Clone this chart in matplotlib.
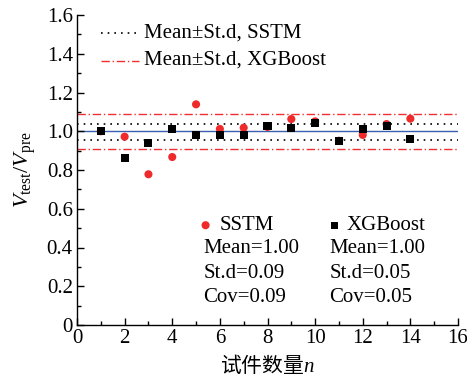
import matplotlib
matplotlib.use("Agg")
import matplotlib.pyplot as plt
from matplotlib.ticker import MultipleLocator

n = list(range(1, 15))
sstm = [1.00, 0.972, 0.778, 0.867, 1.139, 1.012, 1.018, 1.022, 1.063, 1.051, 0.951, 0.981, 1.037, 1.065]
xgb = [1.003, 0.864, 0.941, 1.010, 0.979, 0.979, 0.981, 1.027, 1.017, 1.044, 0.948, 1.010, 1.027, 0.962]
mean_line = 1.0
sstm_band = [1.037, 0.953]
xgb_band = [1.087, 0.908]

plt.rcParams['font.family'] = ['Liberation Serif', 'Noto Sans CJK SC']
plt.rcParams['mathtext.fontset'] = 'custom'
plt.rcParams['mathtext.rm'] = 'Liberation Serif'
plt.rcParams['mathtext.it'] = 'Liberation Serif:italic'

fig = plt.figure(figsize=(4.67, 3.84), dpi=100)
ax = fig.add_axes([77/467, 59/384, 381/467, 310/384])

fs = 15
ax.axhline(mean_line, color='#3a5fb0', lw=1.0, zorder=1)
for v in sstm_band:
    ax.axhline(v, color='black', lw=1.2, ls=(0, (1, 3)), zorder=1)
for v in xgb_band:
    ax.axhline(v, color='#f03030', lw=1.0, ls=(0, (6, 2, 1, 2)), zorder=1)

ax.scatter(n, sstm, marker='o', s=34, color='#ee2a2a', edgecolors='none', zorder=3)
ax.scatter(n, xgb, marker='s', s=34, color='black', edgecolors='none', zorder=4)

# legend (line handles)
ax.plot([1.0, 2.6], [1.505, 1.505], color='black', lw=1.2, ls=(0, (1, 3)))
ax.text(2.8, 1.505, 'Mean±St.d, SSTM', fontsize=fs, va='center', ha='left')
ax.plot([1.0, 2.6], [1.365, 1.365], color='#f03030', lw=1.0, ls=(0, (6, 2, 1, 2)))
ax.text(2.8, 1.365, 'Mean±St.d, XGBoost', fontsize=fs, va='center', ha='left')

# stats block
ax.scatter([5.4], [0.515], marker='o', s=34, color='#ee2a2a', edgecolors='none')
ax.text(6.0, 0.515, 'SSTM', fontsize=fs, va='center', ha='left')
ax.scatter([10.8], [0.515], marker='s', s=28, color='black', edgecolors='none')
ax.text(11.3, 0.515, 'XGBoost', fontsize=fs, va='center', ha='left')
rows = [('Mean=1.00', 'Mean=1.00'), ('St.d=0.09', 'St.d=0.05'), ('Cov=0.09', 'Cov=0.05')]
ys = [0.395, 0.265, 0.14]
for (a, b), yy in zip(rows, ys):
    ax.text(5.3, yy, a, fontsize=fs, va='center', ha='left')
    ax.text(10.6, yy, b, fontsize=fs, va='center', ha='left')

ax.set_xlim(0, 16)
ax.set_ylim(0, 1.6)
ax.xaxis.set_minor_locator(MultipleLocator(1))
ax.yaxis.set_minor_locator(MultipleLocator(0.1))
ax.set_xticks([0, 2, 4, 6, 8, 10, 12, 14, 16])
ax.set_xticklabels(['0', '2', '4', '6', '8', '10', '12', '14', '16'])
ax.set_yticks([0, 0.2, 0.4, 0.6, 0.8, 1.0, 1.2, 1.4, 1.6])
ax.set_yticklabels(['0', '0.2', '0.4', '0.6', '0.8', '1.0', '1.2', '1.4', '1.6'])
ax.tick_params(which='both', direction='in', labelsize=fs, color='black')
ax.tick_params(which='major', length=5, width=1)
ax.tick_params(which='minor', length=3, width=1)
ax.tick_params(axis='x', pad=3)
ax.tick_params(axis='y', pad=3)
for s in ['top', 'right']:
    ax.spines[s].set_visible(False)
for s in ['left', 'bottom']:
    ax.spines[s].set_linewidth(1.0)

ax.set_xlabel('试件数量$\\mathit{n}$', fontsize=fs, family=['Noto Sans CJK SC', 'Liberation Serif'], labelpad=4)
ax.set_ylabel('$V_{\\mathrm{test}}/V_{\\mathrm{pre}}$', fontsize=fs + 1, labelpad=6)

fig.savefig('out.png', dpi=100)
